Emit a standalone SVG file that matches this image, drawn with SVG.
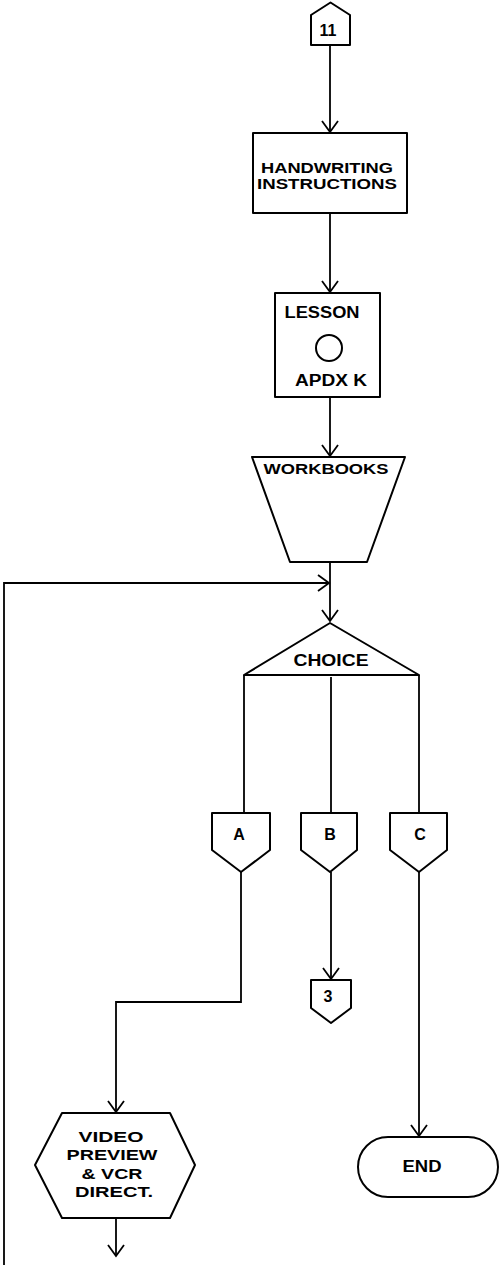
<svg xmlns="http://www.w3.org/2000/svg" width="502" height="1265" viewBox="0 0 502 1265">
<style>
.s{fill:#fff;stroke:#000;stroke-width:2;stroke-linejoin:round}
.c{fill:none;stroke:#000;stroke-width:1.8}
.t{font-family:"Liberation Sans",Arial,sans-serif;font-weight:bold;font-size:16px;fill:#000;text-anchor:middle}
.m{font-size:15px}
</style>
<defs>
<marker id="v" markerUnits="userSpaceOnUse" markerWidth="24" markerHeight="24" refX="0" refY="0" viewBox="-14 -12 16 24" orient="auto" overflow="visible">
<path d="M -11 -8 L 0 0 L -11 8" fill="none" stroke="#000" stroke-width="1.8"/>
</marker>
</defs>
<rect width="502" height="1265" fill="#fff"/>
<g id="connectors">
<path class="c" d="M 330 45 L 330 132" marker-end="url(#v)"/>
<path class="c" d="M 330 213 L 330 292" marker-end="url(#v)"/>
<path class="c" d="M 330 397 L 330 456" marker-end="url(#v)"/>
<path class="c" d="M 330 562 L 330 621" marker-end="url(#v)"/>
<path class="c" d="M 4 1265 L 4 583 L 329 583" marker-end="url(#v)"/>
<path class="c" d="M 244 675 L 244 813"/>
<path class="c" d="M 331 677 L 331 813"/>
<path class="c" d="M 419 675 L 419 813"/>
<path class="c" d="M 241 872 L 241 1002 L 116 1002 L 116 1112" marker-end="url(#v)"/>
<path class="c" d="M 331 872 L 331 979" marker-end="url(#v)"/>
<path class="c" d="M 419 872 L 419 1136" marker-end="url(#v)"/>
<path class="c" d="M 116 1218 L 116 1256" marker-end="url(#v)"/>
</g>
<g id="n11">
<polygon class="s" points="311,15 330.5,2.5 350,15 350,45 311,45"/>
<text class="t" x="328" y="36">11</text>
</g>
<g id="handwriting">
<rect class="s" x="253" y="133" width="154" height="80"/>
<text class="t m" x="327" y="173" textLength="132" lengthAdjust="spacingAndGlyphs">HANDWRITING</text>
<text class="t m" x="327" y="189" textLength="140" lengthAdjust="spacingAndGlyphs">INSTRUCTIONS</text>
</g>
<g id="lesson">
<rect class="s" x="275" y="293" width="105" height="104"/>
<text class="t" x="322" y="318" textLength="75" lengthAdjust="spacingAndGlyphs">LESSON</text>
<circle cx="329" cy="348" r="13" fill="none" stroke="#000" stroke-width="2"/>
<text class="t" x="331" y="386" textLength="72" lengthAdjust="spacingAndGlyphs">APDX K</text>
</g>
<g id="workbooks">
<polygon class="s" points="252,457 405,457 367,562 290,562"/>
<text class="t m" x="326" y="474" textLength="125" lengthAdjust="spacingAndGlyphs">WORKBOOKS</text>
</g>
<g id="choice">
<polygon class="s" points="330,623 244,675 419,675"/>
<text class="t" x="331" y="666" textLength="75" lengthAdjust="spacingAndGlyphs">CHOICE</text>
</g>
<g id="A">
<polygon class="s" points="212,813 270,813 270,850 241,872 212,850"/>
<text class="t" x="239" y="840">A</text>
</g>
<g id="B">
<polygon class="s" points="301,813 357,813 357,850 330,872 301,850"/>
<text class="t" x="330" y="840">B</text>
</g>
<g id="C">
<polygon class="s" points="390,813 447,813 447,850 419,872 390,850"/>
<text class="t" x="420" y="840">C</text>
</g>
<g id="n3">
<polygon class="s" points="311,980 351,980 351,1008 331,1023 311,1008"/>
<text class="t" x="328" y="1002">3</text>
</g>
<g id="end">
<rect class="s" x="358" y="1137" width="140" height="60" rx="30"/>
<text class="t" x="422" y="1172" textLength="39" lengthAdjust="spacingAndGlyphs">END</text>
</g>
<g id="video">
<polygon class="s" points="62,1113 170,1113 195,1165 170,1218 62,1218 35,1165"/>
<text class="t m" x="111" y="1142" textLength="65" lengthAdjust="spacingAndGlyphs">VIDEO</text>
<text class="t m" x="112" y="1160" textLength="91" lengthAdjust="spacingAndGlyphs">PREVIEW</text>
<text class="t m" x="112" y="1179" textLength="61" lengthAdjust="spacingAndGlyphs">&amp; VCR</text>
<text class="t m" x="114" y="1197" textLength="78" lengthAdjust="spacingAndGlyphs">DIRECT.</text>
</g>
</svg>
